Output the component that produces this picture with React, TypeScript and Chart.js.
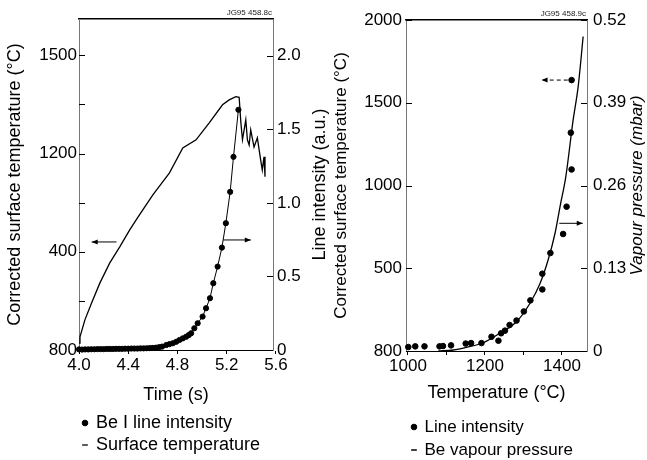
import React, { useEffect, useRef } from 'react';
import { Chart, registerables } from 'chart.js';

Chart.register(...registerables);

const FONT = "'Liberation Sans', Arial, Helvetica, sans-serif";

// ---------- Left panel data ----------
const timeTemp = [4.0, 4.008, 4.048, 4.103, 4.17, 4.25, 4.331, 4.412, 4.479, 4.6, 4.735, 4.843, 4.951, 5.058, 5.166, 5.22, 5.274, 5.301, 5.315, 5.328, 5.355, 5.368, 5.382, 5.395, 5.422, 5.449, 5.476, 5.489, 5.503, 5.511];
const surfaceTemp = [621, 640, 692, 744, 805, 866, 915, 967, 1006, 1074, 1141, 1217, 1242, 1294, 1349, 1364, 1374, 1372, 1294, 1242, 1303, 1242, 1226, 1272, 1220, 1248, 1180, 1150, 1190, 1129];

const timeIntensity = [4.0, 4.025, 4.05, 4.075, 4.1, 4.125, 4.15, 4.175, 4.2, 4.225, 4.25, 4.275, 4.3, 4.325, 4.35, 4.375, 4.4, 4.425, 4.45, 4.475, 4.5, 4.525, 4.55, 4.575, 4.6, 4.625, 4.65, 4.675, 4.709, 4.735, 4.762, 4.79, 4.816, 4.843, 4.87, 4.891, 4.911, 4.937, 4.964, 5.004, 5.032, 5.064, 5.091, 5.126, 5.161, 5.193, 5.228, 5.255, 5.295];
const lineIntensity = [0.004, 0.003, 0.004, 0.004, 0.005, 0.005, 0.006, 0.006, 0.006, 0.007, 0.007, 0.007, 0.008, 0.008, 0.008, 0.009, 0.009, 0.01, 0.01, 0.01, 0.011, 0.011, 0.012, 0.013, 0.014, 0.016, 0.019, 0.023, 0.034, 0.04, 0.046, 0.056, 0.068, 0.079, 0.09, 0.101, 0.114, 0.148, 0.182, 0.227, 0.284, 0.352, 0.454, 0.567, 0.696, 0.862, 1.075, 1.313, 1.633];

const leftXTicks = [4.0, 4.4, 4.8, 5.2, 5.6];
const leftXLabels = ['4.0', '4.4', '4.8', '5.2', '5.6'];
const leftYTicks = [600, 750, 900, 1050, 1200, 1350, 1500];
const leftYLabels = ['800', '', '400', '', '1200', '', '1500'];
const leftY2Ticks = [0, 0.5, 1.0, 1.5, 2.0];
const leftY2Labels = ['0', '0.5', '1.0', '1.5', '2.0'];

const leftArrows = [
  { x1: 4.305, x2: 4.103, y: 930, axis: 'y', dashed: false },
  { x1: 5.172, x2: 5.396, y: 0.748, axis: 'y2', dashed: false },
];

// ---------- Right panel data ----------
const dotTemps = [1001, 1019, 1043, 1082, 1091, 1112, 1150, 1164, 1191, 1217, 1235, 1242, 1252, 1264, 1282, 1301, 1318, 1349, 1349, 1370, 1403, 1412, 1425, 1423, 1425];
const dotIntensity = [24, 28, 28, 28, 30, 34, 45, 48, 48, 86, 62, 107, 123, 157, 184, 239, 306, 467, 372, 592, 707, 872, 1097, 1319, 1637];

const curveTemps = [1079, 1118, 1152, 1196, 1239, 1282, 1317, 1343, 1364, 1382, 1395, 1410, 1429, 1442, 1455];
const vapourPressure = [0.0, 0.0016, 0.0058, 0.013, 0.028, 0.046, 0.075, 0.106, 0.143, 0.185, 0.227, 0.274, 0.363, 0.415, 0.494];

const rightXTicks = [1000, 1100, 1200, 1300, 1400];
const rightXLabels = ['1000', '', '1200', '', '1400'];
const rightYTicks = [0, 500, 1000, 1500, 2000];
const rightYLabels = ['800', '500', '1000', '1500', '2000'];
const rightY2Ticks = [0, 0.13, 0.26, 0.39, 0.52];
const rightY2Labels = ['0', '0.13', '0.26', '0.39', '0.52'];

const rightArrows = [
  { x1: 1415, x2: 1347, y: 1637, axis: 'y', dashed: true },
  { x1: 1393, x2: 1454, y: 0.2006, axis: 'y2', dashed: false },
];

// ---------- plugins ----------
function makeSideTitle(text: string, size: number, offset: number, style: string) {
  return {
    id: 'sideTitle',
    afterDraw(chart: any) {
      const s = chart.scales.y2;
      const { ctx, chartArea } = chart;
      ctx.save();
      ctx.translate(s.right - offset, (chartArea.top + chartArea.bottom) / 2);
      ctx.rotate(-Math.PI / 2);
      ctx.font = `${style} ${size}px ${FONT}`;
      ctx.fillStyle = '#000';
      ctx.textAlign = 'center';
      ctx.textBaseline = 'middle';
      ctx.fillText(text, 0, 0);
      ctx.restore();
    },
  };
}

// tick marks pointing into the plot on both vertical axes
const innerTicks = {
  id: 'innerTicks',
  afterDraw(chart: any) {
    const { ctx, chartArea } = chart;
    ctx.save();
    ctx.strokeStyle = '#000';
    ctx.lineWidth = 1;
    ['y', 'y2'].forEach((id) => {
      const s = chart.scales[id];
      if (!s) return;
      const left = s.position === 'left';
      const x0 = left ? chartArea.left : chartArea.right;
      const x1 = left ? x0 + 6 : x0 - 6;
      s.ticks.forEach((t: any) => {
        const py = Math.round(s.getPixelForValue(t.value)) + 0.5;
        ctx.beginPath();
        ctx.moveTo(x0, py);
        ctx.lineTo(x1, py);
        ctx.stroke();
      });
    });
    ctx.restore();
  },
};

function makeArrows(items: any[]) {
  return {
    id: 'arrows',
    afterDatasetsDraw(chart: any) {
      const { ctx } = chart;
      const xs = chart.scales.x;
      items.forEach((a) => {
        const ys = chart.scales[a.axis];
        const px1 = xs.getPixelForValue(a.x1);
        const px2 = xs.getPixelForValue(a.x2);
        const py = ys.getPixelForValue(a.y);
        ctx.save();
        ctx.strokeStyle = '#000';
        ctx.fillStyle = '#000';
        ctx.lineWidth = 1;
        if (a.dashed) ctx.setLineDash([4, 3]);
        ctx.beginPath();
        ctx.moveTo(px1, py);
        ctx.lineTo(px2, py);
        ctx.stroke();
        ctx.setLineDash([]);
        const dir = Math.sign(px2 - px1);
        ctx.beginPath();
        ctx.moveTo(px2, py);
        ctx.lineTo(px2 - dir * 6, py - 2.5);
        ctx.lineTo(px2 - dir * 6, py + 2.5);
        ctx.closePath();
        ctx.fill();
        ctx.restore();
      });
    },
  };
}

function makeStamp(text: string) {
  return {
    id: 'stamp',
    afterDraw(chart: any) {
      const { ctx, chartArea } = chart;
      ctx.save();
      ctx.font = `8px ${FONT}`;
      ctx.fillStyle = '#222';
      ctx.textAlign = 'right';
      ctx.textBaseline = 'bottom';
      ctx.fillText(text, chartArea.right - 1, chartArea.top - 2);
      ctx.restore();
    },
  };
}

// ---------- scale helpers ----------
function fixed(values: number[]) {
  return (s: any) => {
    s.ticks = values.map((v) => ({ value: v }));
  };
}

function yScale(o: any) {
  return {
    type: 'linear',
    position: o.position,
    min: o.min,
    max: o.max,
    afterBuildTicks: fixed(o.ticks),
    afterFit: (s: any) => {
      s.width = o.width;
    },
    grid: { display: false, drawOnChartArea: false, drawTicks: false },
    border: { display: true, color: '#777', dash: [3, 2], width: 1 },
    ticks: {
      autoSkip: false,
      padding: o.padding,
      color: '#000',
      font: { family: FONT, size: 17 },
      callback: (_v: any, i: number) => o.labels[i],
    },
    title: o.title
      ? { display: true, text: o.title, color: '#000', font: { family: FONT, size: o.titleSize }, padding: { top: o.titlePad, bottom: 0 } }
      : { display: false },
  };
}

function xScale(o: any) {
  return {
    type: 'linear',
    position: 'bottom',
    min: o.min,
    max: o.max,
    afterBuildTicks: fixed(o.ticks),
    afterFit: (s: any) => {
      s.height = o.height;
    },
    grid: { display: true, drawOnChartArea: false, drawTicks: true, tickLength: 4, color: '#000', lineWidth: 1 },
    border: { display: true, color: '#000', width: 1 },
    ticks: {
      autoSkip: false,
      maxRotation: 0,
      padding: 1,
      color: '#000',
      font: { family: FONT, size: 17 },
      callback: (_v: any, i: number) => o.labels[i],
    },
    title: { display: true, text: o.title, color: '#000', font: { family: FONT, size: 18 }, padding: { top: 0, bottom: o.titlePad } },
  };
}

function topScale(min: number, max: number) {
  return {
    type: 'linear',
    position: 'top',
    min,
    max,
    grid: { display: false },
    ticks: { display: false },
    border: { display: true, color: '#000', width: 1.5 },
    afterFit: (s: any) => {
      s.height = 0;
    },
  };
}

function legendOpts(size: number, padding: number) {
  return {
    display: true,
    position: 'bottom',
    align: 'start',
    fullSize: false,
    labels: {
      usePointStyle: true,
      boxWidth: 4,
      boxHeight: 4,
      padding,
      color: '#000',
      font: { family: FONT, size },
    },
  };
}

function buildLeft(): any {
  return {
    type: 'scatter',
    data: {
      datasets: [
        {
          label: 'Be I line intensity',
          data: timeIntensity.map((t, i) => ({ x: t, y: lineIntensity[i] })),
          yAxisID: 'y2',
          showLine: true,
          borderColor: '#000',
          backgroundColor: '#000',
          borderWidth: 1,
          pointRadius: 2.6,
          pointStyle: 'circle',
          pointBackgroundColor: '#000',
          pointBorderColor: '#000',
          clip: false,
        },
        {
          label: 'Surface temperature',
          data: timeTemp.map((t, i) => ({ x: t, y: surfaceTemp[i] })),
          yAxisID: 'y',
          showLine: true,
          borderColor: '#000',
          backgroundColor: '#000',
          borderWidth: 1.3,
          pointRadius: 0,
          pointStyle: 'line',
          tension: 0,
          clip: false,
        },
      ],
    },
    options: {
      animation: false,
      responsive: false,
      devicePixelRatio: 1,
      events: [],
      layout: { padding: { top: 19, bottom: -4, left: 0, right: 0 } },
      scales: {
        x: xScale({ min: 4.0, max: 5.576, ticks: leftXTicks, labels: leftXLabels, height: 60, title: 'Time (s)', titlePad: 4 }),
        xt: topScale(4.0, 5.576),
        y: yScale({ position: 'left', min: 600, max: 1611, ticks: leftYTicks, labels: leftYLabels, width: 79, padding: 2, title: 'Corrected surface temperature (°C)', titleSize: 18, titlePad: 4 }),
        y2: yScale({ position: 'right', min: 0, max: 2.25, ticks: leftY2Ticks, labels: leftY2Labels, width: 57, padding: 4 }),
      },
      plugins: {
        legend: legendOpts(18, 4),
        tooltip: { enabled: false },
      },
    },
    plugins: [innerTicks, makeSideTitle('Line intensity (a.u.)', 18, 10, 'normal'), makeArrows(leftArrows), makeStamp('JG95 458.8c')],
  };
}

function buildRight(): any {
  return {
    type: 'scatter',
    data: {
      datasets: [
        {
          label: 'Line intensity',
          data: dotTemps.map((t, i) => ({ x: t, y: dotIntensity[i] })),
          yAxisID: 'y',
          showLine: false,
          borderColor: '#000',
          backgroundColor: '#000',
          pointRadius: 2.8,
          pointStyle: 'circle',
          pointBackgroundColor: '#000',
          pointBorderColor: '#000',
          clip: false,
        },
        {
          label: 'Be vapour pressure',
          data: curveTemps.map((t, i) => ({ x: t, y: vapourPressure[i] })),
          yAxisID: 'y2',
          showLine: true,
          borderColor: '#000',
          backgroundColor: '#000',
          borderWidth: 1.3,
          pointRadius: 0,
          pointStyle: 'line',
          cubicInterpolationMode: 'monotone',
          clip: false,
        },
      ],
    },
    options: {
      animation: false,
      responsive: false,
      devicePixelRatio: 1,
      events: [],
      layout: { padding: { top: 20, bottom: -8.5, left: 0, right: 0 } },
      scales: {
        x: xScale({ min: 995, max: 1465, ticks: rightXTicks, labels: rightXLabels, height: 61.5, title: 'Temperature (°C)', titlePad: 8.7 }),
        xt: topScale(995, 1465),
        y: yScale({ position: 'left', min: 0, max: 2000, ticks: rightYTicks, labels: rightYLabels, width: 76, padding: 4, title: 'Corrected surface temperature (°C)', titleSize: 17, titlePad: 1 }),
        y2: yScale({ position: 'right', min: 0, max: 0.52, ticks: rightY2Ticks, labels: rightY2Labels, width: 60, padding: 6 }),
      },
      plugins: {
        legend: legendOpts(17, 6),
        tooltip: { enabled: false },
      },
    },
    plugins: [innerTicks, makeSideTitle('Vapour pressure (mbar)', 17, 10, 'italic'), makeArrows(rightArrows), makeStamp('JG95 458.9c')],
  };
}

export default function App() {
  const leftRef = useRef<HTMLCanvasElement | null>(null);
  const rightRef = useRef<HTMLCanvasElement | null>(null);

  useEffect(() => {
    const a = new Chart(leftRef.current as HTMLCanvasElement, buildLeft());
    const b = new Chart(rightRef.current as HTMLCanvasElement, buildRight());
    return () => {
      a.destroy();
      b.destroy();
    };
  }, []);

  return (
    <div style={{ position: 'fixed', left: 0, top: 0, width: 647, height: 460, background: '#fff', overflow: 'hidden' }}>
      <canvas ref={leftRef} width={330} height={460} style={{ position: 'absolute', left: 0, top: 0, width: 330, height: 460 }} />
      <canvas ref={rightRef} width={317} height={460} style={{ position: 'absolute', left: 330, top: 0, width: 317, height: 460 }} />
    </div>
  );
}
